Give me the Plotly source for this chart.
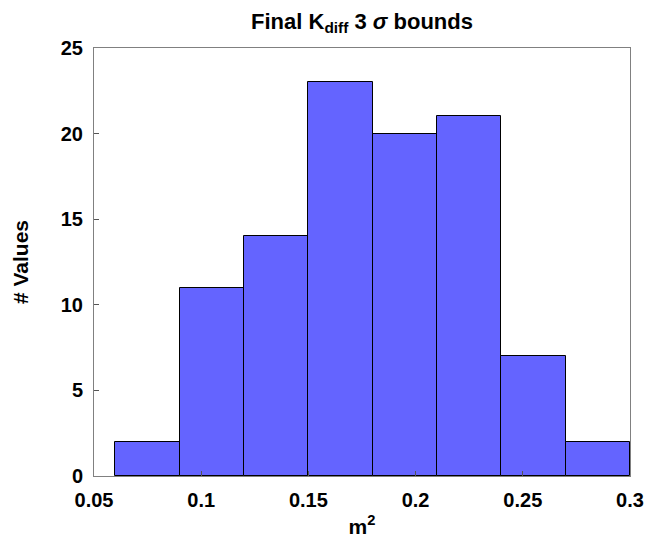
import plotly.graph_objects as go

bin_edges = [0.06, 0.09, 0.12, 0.15, 0.18, 0.21, 0.24, 0.27, 0.30]
counts = [2, 11, 14, 23, 20, 21, 7, 2]
x_ticks = [0.05, 0.1, 0.15, 0.2, 0.25, 0.3]
x_tick_labels = ["0.05", "0.1", "0.15", "0.2", "0.25", "0.3"]
y_ticks = [0, 5, 10, 15, 20, 25]

centers = [(a + b) / 2 for a, b in zip(bin_edges[:-1], bin_edges[1:])]
widths = [b - a for a, b in zip(bin_edges[:-1], bin_edges[1:])]

fam = "Liberation Sans, Arial, sans-serif"
font = dict(family=fam, color="black", size=20, weight="bold")

fig = go.Figure(go.Bar(
    x=centers, y=counts, width=widths,
    marker=dict(color="rgb(100,100,255)", line=dict(color="black", width=1)),
))

fig.update_layout(
    width=661, height=546,
    margin=dict(l=94, r=31, t=48, b=70),
    plot_bgcolor="white", paper_bgcolor="white",
    showlegend=False,
    font=font,
    title=dict(text="Final K<sub>diff</sub> 3 <i>σ</i> bounds", x=(94 + 630) / 2 / 661, xanchor="center",
               y=1 - 21 / 546, yanchor="middle",
               font=dict(size=22, family=fam, weight="bold", color="black")),
    bargap=0,
)
fig.update_xaxes(
    range=[0.05, 0.3], tickvals=x_ticks, ticktext=x_tick_labels,
    showline=True, linecolor="#808080", linewidth=1, mirror=True,
    ticks="inside", ticklen=5, tickcolor="#555555", showgrid=False, zeroline=False,
    tickfont=dict(size=20), ticklabelstandoff=6,
    title=dict(text="m<sup>2</sup>", font=dict(size=21), standoff=9),
)
fig.update_yaxes(
    range=[0, 25], tickvals=y_ticks,
    showline=True, linecolor="#808080", linewidth=1, mirror=True,
    ticks="inside", ticklen=5, tickcolor="#555555", showgrid=False, zeroline=False,
    tickfont=dict(size=20), ticklabelstandoff=6,
    title=dict(text="# Values", font=dict(size=21), standoff=26),
)

fig.write_html("out.html")
